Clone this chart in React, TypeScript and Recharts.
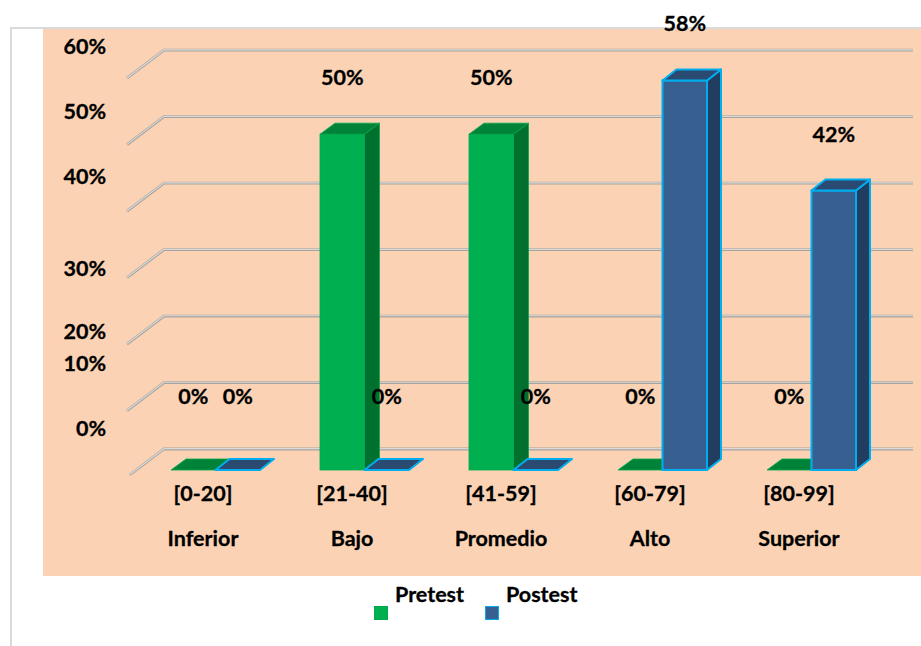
import React from "react";
import { BarChart, Bar, XAxis, YAxis, CartesianGrid, Legend, LabelList } from "recharts";

const ranges = ["[0-20]", "[21-40]", "[41-59]", "[60-79]", "[80-99]"];
const levels = ["Inferior", "Bajo", "Promedio", "Alto", "Superior"];
const pretest = [0, 50, 50, 0, 0];
const postest = [0, 0, 0, 58, 41.6];
const yTicks = [0, 10, 20, 30, 40, 50, 60];

const data = ranges.map((r, i) => ({ range: r, level: levels[i], Pretest: pretest[i], Postest: postest[i] }));

const FONT = "Lato, sans-serif";
const FONT_SIZE = 21.5;
const PLOT_BOTTOM = 470;
const yLabelShift: Record<number, number> = { 60: -21, 50: -23, 40: -25, 30: -1, 20: -5, 10: -40, 0: -42 };
const levelByRange: Record<string, string> = Object.fromEntries(ranges.map((r, i) => [r, levels[i]]));
const textBold = { fontFamily: FONT, fontWeight: 700, fontSize: FONT_SIZE, fill: "#000", stroke: "#000", strokeWidth: 0.3 };

const palettes = {
  Pretest: { front: "#00B050", top: "#008238", side: "#00702F", edge: "#00A84C", sw: 0.8, dx: 15 },
  Postest: { front: "#375F8F", top: "#2A4A72", side: "#213D5F", edge: "#00AEEF", sw: 2, dx: 14 },
};

function Box(props: any) {
  const { x, y, width, height, palette: c } = props;
  const dx = c.dx, dy = 11;
  const topPts = `${x},${y} ${x + dx},${y - dy} ${x + width + dx},${y - dy} ${x + width},${y}`;
  const sidePts = `${x + width},${y} ${x + width + dx},${y - dy} ${x + width + dx},${y + height - dy} ${x + width},${y + height}`;
  return (
    <g>
      {height > 0 && <polygon points={sidePts} fill={c.side} stroke={c.edge} strokeWidth={c.sw} strokeLinejoin="round" />}
      {height > 0 && <rect x={x} y={y} width={width} height={height} fill={c.front} stroke={c.edge} strokeWidth={c.sw} />}
      <polygon points={topPts} fill={c.top} stroke={c.edge} strokeWidth={c.sw} strokeLinejoin="round" />
    </g>
  );
}

function BarLabel(props: any) {
  const { x, y, width, value } = props;
  const lift = value === 0 ? 74 : 57;
  return (
    <text x={x + width / 2} y={y - lift} textAnchor="middle" dominantBaseline="central" {...textBold}>
      {Math.round(value)}%
    </text>
  );
}

function GridLine(props: any) {
  const { x1, x2, y1 } = props;
  const back = 449 - (PLOT_BOTTOM - y1) * (6.65 / 6.72);
  const cornerX = x1 + 23;
  const frontX = x1 - 14;
  let startY = back + 28;
  let startX = frontX;
  if (startY > 475) {
    startX = cornerX - ((475 - back) / 28) * 37;
    startY = 475;
  }
  const pts = `${startX},${startY} ${cornerX},${back} ${x2 + 27},${back}`;
  return (
    <g key={`g-${y1}`}>
      <polyline points={pts} fill="none" stroke="#A8A29C" strokeWidth={2.8} />
      <polyline points={pts} fill="none" stroke="#DAD9D8" strokeWidth={1.2} transform="translate(0,-0.3)" />
    </g>
  );
}

function YTick(props: any) {
  const { y, payload } = props;
  return (
    <text x={106} y={y + yLabelShift[payload.value]} textAnchor="end" dominantBaseline="central" {...textBold}>
      {payload.value}%
    </text>
  );
}

function XTick(props: any) {
  const { x, payload } = props;
  const cx = x - 12.5;
  return (
    <g {...textBold} textAnchor="middle">
      <text x={cx} y={493} dominantBaseline="central">{payload.value}</text>
      <text x={cx} y={538} dominantBaseline="central">{levelByRange[payload.value]}</text>
    </g>
  );
}

const legendOrder = ["Pretest", "Postest"];

function LegendBox(props: any) {
  const items = legendOrder.map((name) => (props.payload || []).find((p: any) => p.value === name)).filter(Boolean);
  return (
    <div style={{ position: "relative", width: 230, height: 50 }}>
      {items.map((it: any, i: number) => {
        const c = palettes[it.value as "Pretest" | "Postest"];
        return (
          <div key={it.value}>
            <div style={{ position: "absolute", left: i * 111, top: 21, width: 12, height: 12, background: c.front, border: `1px solid ${c.edge}` }} />
            <div style={{ position: "absolute", left: 21 + i * 111, top: -4, fontFamily: FONT, fontWeight: 700, fontSize: FONT_SIZE, color: "#000", lineHeight: "26px", WebkitTextStroke: "0.3px #000" }}>
              {it.value}
            </div>
          </div>
        );
      })}
    </div>
  );
}

export default function App() {
  return (
    <div style={{ position: "absolute", left: 0, top: 0, width: 921, height: 646, background: "#fff", overflow: "hidden" }}>
      <div style={{ position: "absolute", left: 10, top: 27, width: 911, height: 2, background: "#DADADA" }} />
      <div style={{ position: "absolute", left: 10, top: 27, width: 2, height: 619, background: "#DADADA" }} />
      <div style={{ position: "absolute", left: 43, top: 29, width: 878, height: 547, background: "#FBD3B4" }} />
      <div style={{ position: "absolute", left: 0, top: 0 }}>
        <BarChart width={921} height={646} data={data} barSize={44.5} barGap={0} margin={{ top: 67, right: 35, bottom: 86, left: 0 }}>
          <CartesianGrid vertical={false} horizontal={GridLine as any} />
          <XAxis dataKey="range" height={90} axisLine={false} tickLine={false} tick={<XTick />} interval={0} />
          <YAxis width={141} domain={[0, 60]} ticks={yTicks} axisLine={false} tickLine={false} tick={<YTick />} interval={0} />
          <Bar dataKey="Pretest" isAnimationActive={false} shape={<Box palette={palettes.Pretest} />}>
            <LabelList dataKey="Pretest" content={<BarLabel />} />
          </Bar>
          <Bar dataKey="Postest" isAnimationActive={false} shape={<Box palette={palettes.Postest} />}>
            <LabelList dataKey="Postest" content={<BarLabel />} />
          </Bar>
          <Legend layout="horizontal" verticalAlign="middle" align="center" content={<LegendBox />} wrapperStyle={{ left: 374, top: 585, width: 230, height: 50, right: "auto", bottom: "auto" }} />
        </BarChart>
      </div>
    </div>
  );
}
